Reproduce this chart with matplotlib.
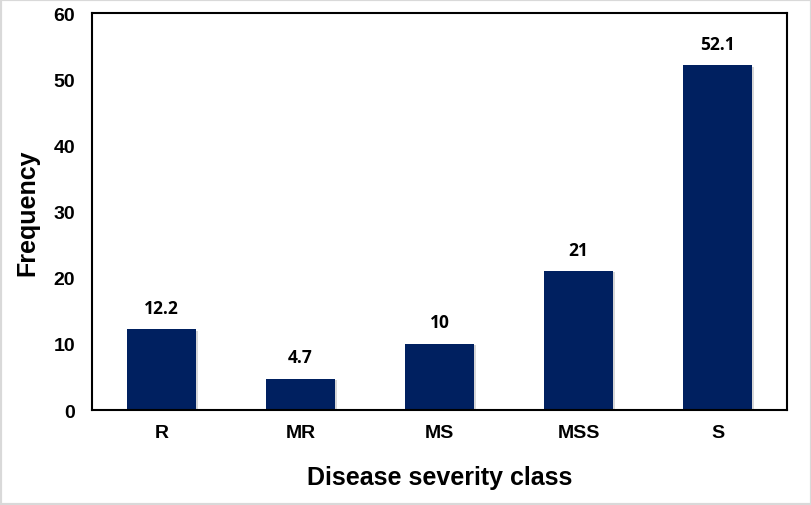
import matplotlib.pyplot as plt
from matplotlib.patches import Rectangle
import matplotlib.patheffects as pe

plt.rcParams['font.family'] = ['Liberation Sans', 'DejaVu Sans']

classes = ['R', 'MR', 'MS', 'MSS', 'S']
freq = [12.2, 4.7, 10, 21, 52.1]
bar_labels = ['12.2', '4.7', '10', '21', '52.1']

fig = plt.figure(figsize=(8.12, 5.06), dpi=100)
ax = fig.add_axes([0.1133, 0.1877, 0.8559, 0.7846])

bars = ax.bar(classes, freq, width=0.5, color='#002060', zorder=2)
for b in bars:
    b.set_path_effects([pe.SimplePatchShadow(offset=(1.5, -1), shadow_rgbFace='#b0b0b0', alpha=0.5), pe.Normal()])
for b, lab in zip(bars, bar_labels):
    ax.annotate(lab, (b.get_x() + b.get_width() / 2, b.get_height()),
                xytext=(0, 9), textcoords='offset points',
                ha='center', va='bottom', fontsize=12.5, fontweight='bold',
                family=['Open Sans', 'DejaVu Sans'])

ax.set_ylim(0, 60)
ax.set_xlim(-0.5, 4.5)
ax.set_yticks(range(0, 61, 10))
ax.tick_params(axis='both', length=0, labelsize=14)
ax.tick_params(axis='y', pad=12)
ax.tick_params(axis='x', pad=10)
for t in ax.get_xticklabels() + ax.get_yticklabels():
    t.set_fontweight('bold')
for s in ax.spines.values():
    s.set_linewidth(1.5)
    s.set_color('black')

ax.set_ylabel('Frequency', fontsize=18, fontweight='bold', labelpad=10)
ax.set_xlabel('Disease severity class', fontsize=18, fontweight='bold', labelpad=17)

fig.patches.append(Rectangle((0, 0), 1, 1, transform=fig.transFigure,
                             fill=False, edgecolor='#d9d9d9', linewidth=3))

fig.savefig('out.png', dpi=100)
